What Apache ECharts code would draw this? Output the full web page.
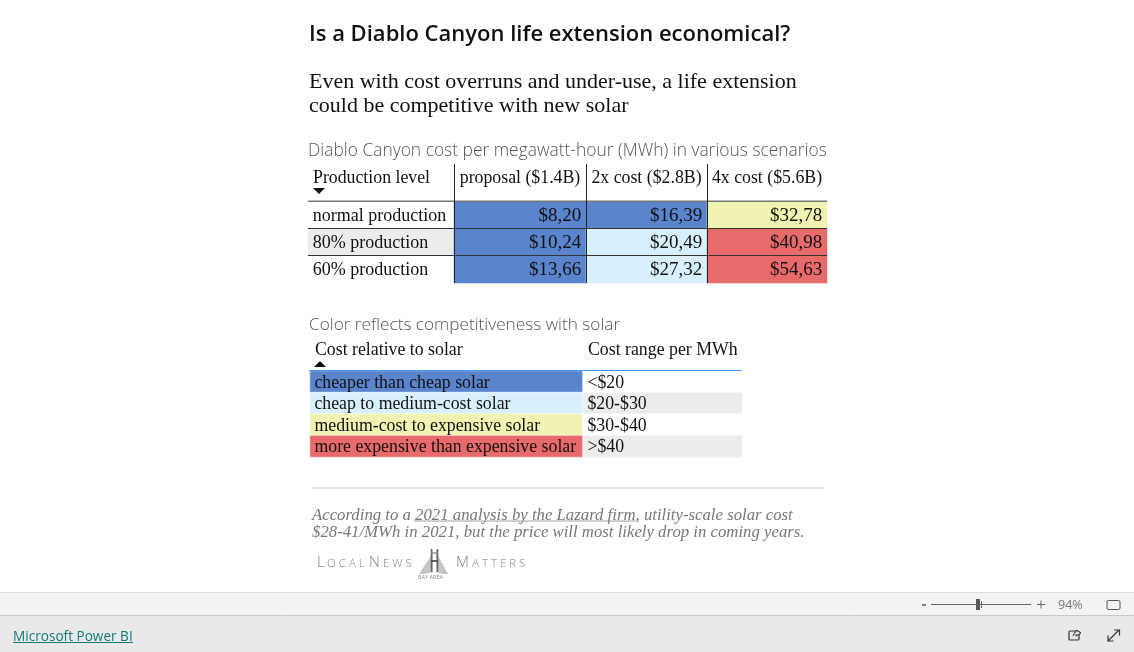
<!DOCTYPE html>
<html><head><meta charset="utf-8">
<style>html,body{margin:0;padding:0;background:#fff}#c{width:1134px;height:652px}</style>
<script src="https://cdn.jsdelivr.net/npm/echarts@6/dist/echarts.min.js"></script>
</head><body><div id="c"></div>
<script>
const costColumns = ['proposal ($1.4B)', '2x cost ($2.8B)', '4x cost ($5.6B)'];
const productionRows = ['normal production', '80% production', '60% production'];
const proposalCost = [8.20, 10.24, 13.66];
const doubleCost = [16.39, 20.49, 27.32];
const quadrupleCost = [32.78, 40.98, 54.63];
const legendLabels = ['cheaper than cheap solar', 'cheap to medium-cost solar', 'medium-cost to expensive solar', 'more expensive than expensive solar'];
const legendRanges = ['<$20', '$20-$30', '$30-$40', '>$40'];
const legendSampleCost = [10, 25, 35, 50];

const SERIF = '"Liberation Serif","DejaVu Serif",serif';
const SANS = '"Open Sans","Noto Sans",sans-serif';
const INK = '#111';
const BLUE = '#5a84cc', PALE = '#d8f0fd', YELLOW = '#f0f3b1', RED = '#e96a6a', STRIPE = '#ececec';

const columnEdges = [454, 586, 707, 827];
const headFont = 17.8, bodyFont = 18, legendFont = 17.8, numFont = 19;
const grids = [], xAxes = [], yAxes = [], series = [];
function addTable(left, right, top, bottom, xCats, yCats, labelOpt, s) {
  const i = grids.length;
  grids.push({left: left, top: top, width: right - left, height: bottom - top});
  xAxes.push({type: 'category', gridIndex: i, position: 'top', data: xCats,
    axisLine: {show: false}, axisTick: {show: false}, splitLine: {show: false},
    axisLabel: {show: labelOpt.showX === true, margin: 15, interval: 0, fontFamily: SERIF, fontSize: headFont, color: INK}});
  yAxes.push({type: 'category', gridIndex: i, inverse: true, data: yCats,
    axisLine: {show: false}, axisTick: {show: false}, axisLabel: {show: false}, splitLine: {show: false}});
  series.push(Object.assign({type: 'heatmap', xAxisIndex: i, yAxisIndex: i, emphasis: {disabled: true}, progressive: 0}, s));
}
const cellLabel = (pos, fmt, size, dy) => ({show: true, position: pos, distance: 5, offset: [0, dy], fontFamily: SERIF, fontSize: size, color: INK, formatter: fmt});
const money = p => '$' + p.value[2].toFixed(2).replace('.', ',');

// row header column
addTable(308, 454, 202, 283, ['h'], productionRows, {}, {
  data: productionRows.map((r, i) => ({value: [0, i, i], itemStyle: {color: i === 1 ? STRIPE : '#fff'}})),
  label: cellLabel('insideLeft', p => productionRows[p.value[1]], bodyFont, 1)
});
// cost columns, each its own width
[proposalCost, doubleCost, quadrupleCost].forEach((vals, c) => {
  addTable(columnEdges[c], columnEdges[c + 1], 202, 283, [costColumns[c]], productionRows, {showX: true}, {
    name: 'cost',
    data: vals.map((v, i) => [0, i, v]),
    label: cellLabel('insideRight', money, numFont, 1)
  });
});
// legend table
addTable(310, 583, 371, 457, ['l'], legendLabels, {}, {
  data: legendSampleCost.map((v, i) => [0, i, v]),
  itemStyle: {borderColor: '#fff', borderWidth: 0.6},
  label: cellLabel('insideLeft', p => legendLabels[p.value[1]], legendFont, 1.5)
});
addTable(583, 742, 371, 457, ['r'], legendRanges, {}, {
  data: legendRanges.map((r, i) => ({value: [0, i, i], itemStyle: {color: i % 2 ? STRIPE : '#fff', borderColor: '#fff', borderWidth: 0.6}})),
  label: cellLabel('insideLeft', p => legendRanges[p.value[1]], legendFont, 1.5)
});

const hline = (x1, x2, y, stroke, w) => ({type: 'line', silent: true, z: 50, shape: {x1, x2, y1: y, y2: y}, style: {stroke, lineWidth: w}});
const vline = (x, y1, y2, stroke, w) => ({type: 'line', silent: true, z: 50, shape: {x1: x, x2: x, y1, y2}, style: {stroke, lineWidth: w}});
const txt = (x, y, text, font, fill, extra) => ({type: 'text', silent: true, z: 50, x, y, style: Object.assign({text, font, fill, textVerticalAlign: 'middle', textAlign: 'left'}, extra || {})});
const rect = (x, y, width, height, fill, z) => ({type: 'rect', silent: true, z: z === undefined ? 1 : z, shape: {x, y, width, height}, style: {fill}});
const poly = (pts, fill) => ({type: 'polygon', silent: true, z: 50, shape: {points: pts}, style: {fill}});
const link = '#117a76';
const logoBig = `300 15px ${SANS}`, logoSmall = `300 11.5px ${SANS}`, logoInk = '#808080';

const graphics = [
  // table rules
  hline(308, 827, 201.2, '#777', 1.6),
  hline(308, 827, 228.5, '#333', 1),
  hline(308, 827, 255.5, '#333', 1),
  vline(454.5, 164, 283, '#222', 1),
  vline(586.5, 164, 283, '#222', 1),
  vline(707.5, 164, 283, '#222', 1),
  txt(313, 178, 'Production level', `${headFont}px ${SERIF}`, INK),
  poly([[313, 188], [325, 188], [319, 194]], '#111'),
  // legend header
  txt(315, 350, 'Cost relative to solar', `${headFont}px ${SERIF}`, INK),
  txt(588, 350, 'Cost range per MWh', `${headFont}px ${SERIF}`, INK),
  poly([[314, 367], [326, 367], [320, 361]], '#111'),
  hline(309, 742, 370.5, '#3f99ee', 1),
  // footnote
  hline(311, 824, 488, '#ddd', 1.4),
  txt(312, 515.5, 'According to a 2021 analysis by the Lazard firm, utility-scale solar cost', `italic 16.75px ${SERIF}`, '#777'),
  txt(312, 533, '$28-41/MWh in 2021, but the price will most likely drop in coming years.', `italic 16.75px ${SERIF}`, '#777'),
  hline(414, 636, 521, '#888', 0.8),
  // logo
  txt(317, 563, 'L', logoBig, logoInk),
  txt(327, 564, 'O C A L', logoSmall, logoInk),
  txt(369, 563, 'N', logoBig, logoInk),
  txt(383, 564, 'E W S', logoSmall, logoInk),
  txt(456, 563, 'M', logoBig, logoInk),
  txt(472, 564, 'A T T E R S', logoSmall, logoInk),
  txt(418, 577, 'BAY AREA', `5.5px ${SANS}`, '#888'),
  poly([[419, 574], [431, 556], [431, 550], [433, 550], [433, 572], [425, 574]], '#c4c4c4'),
  poly([[448, 574], [438, 556], [438, 550], [436, 550], [436, 572], [443, 574]], '#c4c4c4'),
  vline(431.5, 549, 572, '#666', 1.5),
  vline(437.5, 549, 572, '#666', 1.5),
  hline(431, 438, 553, '#777', 1),
  hline(431, 438, 561, '#444', 1.6),
  // footer chrome
  rect(0, 592, 1134, 24, '#f3f3f3'),
  hline(0, 1134, 592.5, '#ddd', 1),
  rect(0, 616, 1134, 36, '#e9e9e9'),
  hline(0, 1134, 615.5, '#c8c8c8', 1),
  hline(922, 926, 605, '#666', 1.6),
  hline(931, 1031, 604.5, '#666', 1),
  rect(976, 599, 4, 11, '#555', 50),
  vline(981.5, 601, 608, '#666', 1),
  hline(1037, 1045, 604.5, '#666', 1),
  vline(1041, 600.5, 608.5, '#666', 1),
  txt(1058, 605, '94%', `12.5px ${SANS}`, '#777'),
  {type: 'rect', silent: true, z: 50, shape: {x: 1107, y: 600.5, width: 13, height: 9, r: 1.5}, style: {fill: 'none', stroke: '#555', lineWidth: 1}},
  txt(13, 637, 'Microsoft Power BI', `13.6px ${SANS}`, link),
  hline(13, 133, 642.5, link, 1),
  // share icon
  {type: 'rect', silent: true, z: 50, shape: {x: 1069, y: 631, width: 10, height: 9, r: 1}, style: {fill: 'none', stroke: '#333', lineWidth: 1.2}},
  {type: 'polyline', silent: true, z: 51, shape: {points: [[1073, 636], [1075, 632], [1076, 632], [1076, 630], [1081, 633], [1076, 636], [1076, 634]]}, style: {fill: '#e9e9e9', stroke: '#333', lineWidth: 1}},
  // expand icon
  {type: 'line', silent: true, z: 50, shape: {x1: 1108, y1: 641, x2: 1119, y2: 630}, style: {stroke: '#333', lineWidth: 1.2}},
  {type: 'polyline', silent: true, z: 50, shape: {points: [[1114, 630], [1119.5, 630], [1119.5, 635.5]]}, style: {fill: 'none', stroke: '#333', lineWidth: 1.2}},
  {type: 'polyline', silent: true, z: 50, shape: {points: [[1108, 635.5], [1108, 641], [1113.5, 641]]}, style: {fill: 'none', stroke: '#333', lineWidth: 1.2}}
];

const titleAt = (left, top, text, font) => ({left, top, padding: 0, text, textStyle: Object.assign({color: INK, fontWeight: 'normal'}, font)});
const option = {
  animation: false,
  backgroundColor: '#fff',
  title: [
    titleAt(309, 24, 'Is a Diablo Canyon life extension economical?', {fontFamily: SANS, fontWeight: 600, fontSize: 22}),
    titleAt(309, 71, 'Even with cost overruns and under-use, a life extension', {fontFamily: SERIF, fontSize: 22}),
    titleAt(309, 95, 'could be competitive with new solar', {fontFamily: SERIF, fontSize: 22}),
    titleAt(308, 143, 'Diablo Canyon cost per megawatt-hour (MWh) in various scenarios', {fontFamily: SANS, fontWeight: 300, fontSize: 17.4, color: '#555'}),
    titleAt(309, 317, 'Color reflects competitiveness with solar', {fontFamily: SANS, fontWeight: 300, fontSize: 17.2, color: '#555'})
  ],
  grid: grids, xAxis: xAxes, yAxis: yAxes,
  visualMap: {
    type: 'piecewise', show: false, seriesIndex: [1, 2, 3, 4], dimension: 2,
    pieces: [
      {lt: 20, color: BLUE},
      {gte: 20, lt: 30, color: PALE},
      {gte: 30, lt: 40, color: YELLOW},
      {gte: 40, color: RED}
    ]
  },
  series: series,
  graphic: {elements: graphics}
};
echarts.init(document.getElementById('c')).setOption(option);
</script></body></html>
